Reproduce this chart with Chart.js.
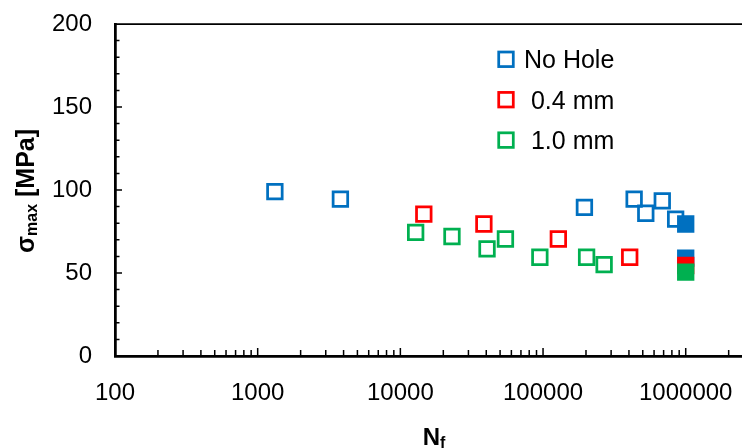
<!DOCTYPE html>
<html>
<head>
<meta charset="utf-8">
<script src="https://cdn.jsdelivr.net/npm/chart.js@4"></script>
<style>
    body { margin: 0; background: #fff; }
    canvas { display: block; }
</style>
</head>
<body>
<canvas id="fatigueChart" width="742" height="448"></canvas>
<script>
// cycles to failure (N_f) and max stress (MPa)
const noHoleN = [1320, 3800, 195000, 435000, 525000, 685000, 850000]
const noHoleS = [99, 94.5, 89.5, 94.5, 86, 93.5, 82.5]
const noHoleRunN = [1000000, 1000000]   // run-outs, filled markers
const noHoleRunS = [79.5, 59]
const hole04N = [14600, 38500, 128000, 405000]
const hole04S = [85.5, 79.5, 70.5, 59.5]
const hole04RunN = [1000000]
const hole04RunS = [54.5]
const hole10N = [12800, 23000, 40500, 54500, 95000, 202000, 268000]
const hole10S = [74.5, 72, 64.5, 70.5, 59.5, 59.5, 55]
const hole10RunN = [1000000]
const hole10RunS = [50.5]

const seriesNames = ['No Hole', ' 0.4 mm', ' 1.0 mm']
const seriesColors = ['#0070C0', '#FF0000', '#00B050']
const xTickLabels = [100, 1000, 10000, 100000, 1000000]
const yTickLabels = [0, 50, 100, 150, 200]

const X_MAX = 2480000
const MARKER_R = 10.3
const MARKER_W = 2.75

Chart.defaults.font.family = "'Liberation Sans', Arial, sans-serif"
Chart.defaults.font.size = 24
Chart.defaults.color = '#000'

function points(xs, ys) {
    return xs.map((x, i) => ({x: x, y: ys[i]}))
}

function makeSet(label, xs, ys, color, filled, order) {
    return {
        label: label,
        data: points(xs, ys),
        showLine: false,
        pointStyle: 'rect',
        pointRadius: MARKER_R,
        pointHoverRadius: MARKER_R,
        pointBorderWidth: MARKER_W,
        pointBorderColor: color,
        pointBackgroundColor: filled ? color : 'rgba(0,0,0,0)',
        order: order
    }
}

// log axis ticks like excel: 1..9 in every decade
function logTicks() {
    const out = []
    xTickLabels.concat([xTickLabels[xTickLabels.length - 1] * 10]).forEach(d => {
        for (let k = 1; k < 10; k++) {
            if (d * k <= X_MAX) out.push({value: d * k})
        }
    })
    return out
}

const decor = {
    id: 'decor',
    afterDraw(chart) {
        const ctx = chart.ctx
        const a = chart.chartArea
        const xs = chart.scales.x
        const ys = chart.scales.y
        ctx.save()

        // top frame line
        ctx.strokeStyle = '#000'
        ctx.lineWidth = 1.75
        ctx.beginPath()
        ctx.moveTo(a.left, a.top)
        ctx.lineTo(a.right, a.top)
        ctx.stroke()

        // tick marks pointing inside
        ctx.lineWidth = 1.5
        ctx.beginPath()
        xs.ticks.forEach(t => {
            const px = xs.getPixelForValue(t.value)
            const len = xTickLabels.includes(t.value) ? 8 : 6
            ctx.moveTo(px, a.bottom)
            ctx.lineTo(px, a.bottom - len)
        })
        for (let v = 10; v < 200; v += 10) {
            const py = ys.getPixelForValue(v)
            const len = yTickLabels.includes(v) ? 7 : 4.5
            ctx.moveTo(a.left, py)
            ctx.lineTo(a.left + len, py)
        }
        ctx.stroke()

        // legend
        const lx = a.left + 391
        const ly = a.top + 35.3
        seriesNames.forEach((name, i) => {
            const cy = ly + i * 40.4
            const side = MARKER_R * Math.SQRT2
            ctx.strokeStyle = seriesColors[i]
            ctx.lineWidth = MARKER_W
            ctx.strokeRect(lx - side / 2, cy - side / 2, side, side)
            ctx.fillStyle = '#000'
            ctx.font = "25px 'Liberation Sans', Arial, sans-serif"
            ctx.textAlign = 'left'
            ctx.textBaseline = 'alphabetic'
            ctx.fillText(name, lx + 18, cy + 9)
        })

        // axis titles with subscripts
        const big = "bold 25px 'Liberation Sans', Arial, sans-serif"
        const small = "bold 16px 'Liberation Sans', Arial, sans-serif"
        ctx.fillStyle = '#000'
        ctx.textBaseline = 'alphabetic'

        ctx.save()
        ctx.translate(34, (a.top + a.bottom) / 2 + 1)
        ctx.rotate(-Math.PI / 2)
        const parts = [['σ', big, 0], ['max', small, 3], [' [MPa]', big, 0]]
        let total = 0
        parts.forEach(p => { ctx.font = p[1]; total += ctx.measureText(p[0]).width })
        let cx = -total / 2
        parts.forEach(p => {
            ctx.font = p[1]
            ctx.fillText(p[0], cx, p[2])
            cx += ctx.measureText(p[0]).width
        })
        ctx.restore()

        ctx.font = "bold 24px 'Liberation Sans', Arial, sans-serif"
        const nW = ctx.measureText('N').width
        ctx.font = small
        const fW = ctx.measureText('f').width
        const tx = 434 - (nW + fW) / 2
        ctx.font = "bold 24px 'Liberation Sans', Arial, sans-serif"
        ctx.fillText('N', tx, 445)
        ctx.font = small
        ctx.fillText('f', tx + nW, 448)

        ctx.restore()
    }
}

const chart = new Chart(document.getElementById('fatigueChart'), {
    type: 'scatter',
    data: {
        datasets: [
            makeSet(seriesNames[0], noHoleN, noHoleS, seriesColors[0], false, 6),
            makeSet(seriesNames[0], noHoleRunN, noHoleRunS, seriesColors[0], true, 5),
            makeSet(seriesNames[1], hole04N, hole04S, seriesColors[1], false, 4),
            makeSet(seriesNames[1], hole04RunN, hole04RunS, seriesColors[1], true, 3),
            makeSet(seriesNames[2], hole10N, hole10S, seriesColors[2], false, 2),
            makeSet(seriesNames[2], hole10RunN, hole10RunS, seriesColors[2], true, 1)
        ]
    },
    options: {
        responsive: false,
        animation: false,
        layout: {autoPadding: false, padding: {top: 24, right: 0, bottom: 0, left: 0}},
        plugins: {
            legend: {display: false},
            tooltip: {enabled: false}
        },
        scales: {
            x: {
                type: 'logarithmic',
                min: 100,
                max: X_MAX,
                grid: {display: false, drawTicks: false},
                border: {display: true, color: '#000', width: 2.75},
                afterBuildTicks: s => { s.ticks = logTicks() },
                afterFit: s => {
                    s.height = 92
                    s.paddingLeft = 0
                    s.paddingRight = 0
                },
                ticks: {
                    autoSkip: false,
                    maxRotation: 0,
                    padding: 23,
                    callback: v => xTickLabels.includes(v) ? String(v) : ''
                }
            },
            y: {
                min: 0,
                max: 200,
                grid: {display: false, drawTicks: false},
                border: {display: true, color: '#000', width: 2.75},
                afterFit: s => {
                    s.width = 115
                    s.paddingTop = 0
                    s.paddingBottom = 0
                },
                ticks: {
                    stepSize: 50,
                    padding: 23,
                    callback: v => yTickLabels.includes(v) ? String(v) : ''
                }
            }
        }
    },
    plugins: [decor]
})
</script>
</body>
</html>
